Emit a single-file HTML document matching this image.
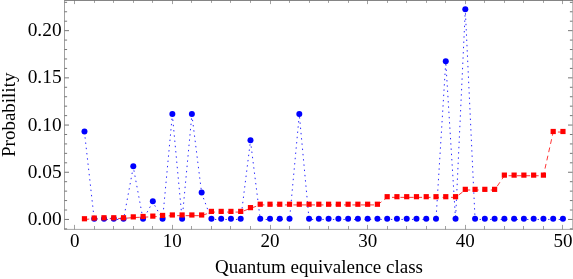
<!DOCTYPE html><html><head><meta charset="utf-8"><style>html,body{margin:0;padding:0;background:#fff;overflow:hidden}body{width:573px;height:279px;position:relative;font-family:"Liberation Serif",serif}</style></head><body><svg width="573" height="279" viewBox="0 0 573 279" style="position:absolute;left:0;top:0;will-change:transform">
<polyline points="84.47,132.04 94.23,219.45 104.00,219.45 113.76,219.45 123.53,219.45 133.29,167.01 143.06,219.45 152.82,201.97 162.59,219.45 172.35,114.56 182.12,219.45 191.88,114.56 201.65,193.23 211.41,219.45 221.18,219.45 230.94,219.45 240.70,219.45 250.47,140.78 260.24,219.45 270.00,219.45 279.76,219.45 289.53,219.45 299.30,114.56 309.06,219.45 318.82,219.45 328.59,219.45 338.36,219.45 348.12,219.45 357.88,219.45 367.65,219.45 377.42,219.45 387.18,219.45 396.94,219.45 406.71,219.45 416.48,219.45 426.24,219.45 436.00,219.45 445.77,61.76 455.54,219.45 465.30,9.67 475.06,219.45 484.83,219.45 494.60,219.45 504.36,219.45 514.12,219.45 523.89,219.45 533.66,219.45 543.42,219.45 553.19,219.45 562.95,219.45" fill="none" stroke="#0000ff" stroke-width="0.85" stroke-dasharray="1.4 3.8727"/>
<polyline points="84.47,219.45 94.23,218.74 104.00,218.46 113.76,218.46 123.53,218.46 133.29,217.56 143.06,217.18 152.82,216.81 162.59,216.15 172.35,215.67 182.12,215.67 191.88,215.67 201.65,215.67 211.41,212.09 221.18,212.09 230.94,212.09 240.70,212.09 250.47,208.31 260.24,204.91 270.00,204.91 279.76,204.91 289.53,204.91 299.30,204.91 309.06,204.91 318.82,204.91 328.59,204.91 338.36,204.91 348.12,204.91 357.88,204.91 367.65,204.91 377.42,204.91 387.18,197.36 396.94,197.36 406.71,197.36 416.48,197.36 426.24,197.36 436.00,197.36 445.77,197.36 455.54,197.36 465.30,190.00 475.06,190.00 484.83,190.00 494.60,190.00 504.36,175.74 514.12,175.74 523.89,175.74 533.66,175.74 543.42,175.74 553.19,132.04 562.95,132.04" fill="none" stroke="#ff0000" stroke-width="0.8" stroke-dasharray="4.8 3.636"/>
<circle cx="84.47" cy="131.45" r="3.0" fill="#0000ff"/>
<circle cx="94.23" cy="218.70" r="3.0" fill="#0000ff"/>
<circle cx="104.00" cy="218.70" r="3.0" fill="#0000ff"/>
<circle cx="113.76" cy="218.70" r="3.0" fill="#0000ff"/>
<circle cx="123.53" cy="218.70" r="3.0" fill="#0000ff"/>
<circle cx="133.29" cy="166.35" r="3.0" fill="#0000ff"/>
<circle cx="143.06" cy="218.70" r="3.0" fill="#0000ff"/>
<circle cx="152.82" cy="201.25" r="3.0" fill="#0000ff"/>
<circle cx="162.59" cy="218.70" r="3.0" fill="#0000ff"/>
<circle cx="172.35" cy="114.00" r="3.0" fill="#0000ff"/>
<circle cx="182.12" cy="218.70" r="3.0" fill="#0000ff"/>
<circle cx="191.88" cy="114.00" r="3.0" fill="#0000ff"/>
<circle cx="201.65" cy="192.52" r="3.0" fill="#0000ff"/>
<circle cx="211.41" cy="218.70" r="3.0" fill="#0000ff"/>
<circle cx="221.18" cy="218.70" r="3.0" fill="#0000ff"/>
<circle cx="230.94" cy="218.70" r="3.0" fill="#0000ff"/>
<circle cx="240.70" cy="218.70" r="3.0" fill="#0000ff"/>
<circle cx="250.47" cy="140.18" r="3.0" fill="#0000ff"/>
<circle cx="260.24" cy="218.70" r="3.0" fill="#0000ff"/>
<circle cx="270.00" cy="218.70" r="3.0" fill="#0000ff"/>
<circle cx="279.76" cy="218.70" r="3.0" fill="#0000ff"/>
<circle cx="289.53" cy="218.70" r="3.0" fill="#0000ff"/>
<circle cx="299.30" cy="114.00" r="3.0" fill="#0000ff"/>
<circle cx="309.06" cy="218.70" r="3.0" fill="#0000ff"/>
<circle cx="318.82" cy="218.70" r="3.0" fill="#0000ff"/>
<circle cx="328.59" cy="218.70" r="3.0" fill="#0000ff"/>
<circle cx="338.36" cy="218.70" r="3.0" fill="#0000ff"/>
<circle cx="348.12" cy="218.70" r="3.0" fill="#0000ff"/>
<circle cx="357.88" cy="218.70" r="3.0" fill="#0000ff"/>
<circle cx="367.65" cy="218.70" r="3.0" fill="#0000ff"/>
<circle cx="377.42" cy="218.70" r="3.0" fill="#0000ff"/>
<circle cx="387.18" cy="218.70" r="3.0" fill="#0000ff"/>
<circle cx="396.94" cy="218.70" r="3.0" fill="#0000ff"/>
<circle cx="406.71" cy="218.70" r="3.0" fill="#0000ff"/>
<circle cx="416.48" cy="218.70" r="3.0" fill="#0000ff"/>
<circle cx="426.24" cy="218.70" r="3.0" fill="#0000ff"/>
<circle cx="436.00" cy="218.70" r="3.0" fill="#0000ff"/>
<circle cx="445.77" cy="61.30" r="3.0" fill="#0000ff"/>
<circle cx="455.54" cy="218.70" r="3.0" fill="#0000ff"/>
<circle cx="465.30" cy="9.30" r="3.0" fill="#0000ff"/>
<circle cx="475.06" cy="218.70" r="3.0" fill="#0000ff"/>
<circle cx="484.83" cy="218.70" r="3.0" fill="#0000ff"/>
<circle cx="494.60" cy="218.70" r="3.0" fill="#0000ff"/>
<circle cx="504.36" cy="218.70" r="3.0" fill="#0000ff"/>
<circle cx="514.12" cy="218.70" r="3.0" fill="#0000ff"/>
<circle cx="523.89" cy="218.70" r="3.0" fill="#0000ff"/>
<circle cx="533.66" cy="218.70" r="3.0" fill="#0000ff"/>
<circle cx="543.42" cy="218.70" r="3.0" fill="#0000ff"/>
<circle cx="553.19" cy="218.70" r="3.0" fill="#0000ff"/>
<circle cx="562.95" cy="218.70" r="3.0" fill="#0000ff"/>
<rect x="81.87" y="216.15" width="5.2" height="5.2" fill="#ff0000"/>
<rect x="91.63" y="215.44" width="5.2" height="5.2" fill="#ff0000"/>
<rect x="101.40" y="215.16" width="5.2" height="5.2" fill="#ff0000"/>
<rect x="111.16" y="215.16" width="5.2" height="5.2" fill="#ff0000"/>
<rect x="120.93" y="215.16" width="5.2" height="5.2" fill="#ff0000"/>
<rect x="130.69" y="214.27" width="5.2" height="5.2" fill="#ff0000"/>
<rect x="140.46" y="213.89" width="5.2" height="5.2" fill="#ff0000"/>
<rect x="150.22" y="213.51" width="5.2" height="5.2" fill="#ff0000"/>
<rect x="159.99" y="212.85" width="5.2" height="5.2" fill="#ff0000"/>
<rect x="169.75" y="212.38" width="5.2" height="5.2" fill="#ff0000"/>
<rect x="179.52" y="212.38" width="5.2" height="5.2" fill="#ff0000"/>
<rect x="189.28" y="212.38" width="5.2" height="5.2" fill="#ff0000"/>
<rect x="199.05" y="212.38" width="5.2" height="5.2" fill="#ff0000"/>
<rect x="208.81" y="208.80" width="5.2" height="5.2" fill="#ff0000"/>
<rect x="218.58" y="208.80" width="5.2" height="5.2" fill="#ff0000"/>
<rect x="228.34" y="208.80" width="5.2" height="5.2" fill="#ff0000"/>
<rect x="238.10" y="208.80" width="5.2" height="5.2" fill="#ff0000"/>
<rect x="247.87" y="205.03" width="5.2" height="5.2" fill="#ff0000"/>
<rect x="257.63" y="201.64" width="5.2" height="5.2" fill="#ff0000"/>
<rect x="267.40" y="201.64" width="5.2" height="5.2" fill="#ff0000"/>
<rect x="277.16" y="201.64" width="5.2" height="5.2" fill="#ff0000"/>
<rect x="286.93" y="201.64" width="5.2" height="5.2" fill="#ff0000"/>
<rect x="296.69" y="201.64" width="5.2" height="5.2" fill="#ff0000"/>
<rect x="306.46" y="201.64" width="5.2" height="5.2" fill="#ff0000"/>
<rect x="316.22" y="201.64" width="5.2" height="5.2" fill="#ff0000"/>
<rect x="325.99" y="201.64" width="5.2" height="5.2" fill="#ff0000"/>
<rect x="335.75" y="201.64" width="5.2" height="5.2" fill="#ff0000"/>
<rect x="345.52" y="201.64" width="5.2" height="5.2" fill="#ff0000"/>
<rect x="355.28" y="201.64" width="5.2" height="5.2" fill="#ff0000"/>
<rect x="365.05" y="201.64" width="5.2" height="5.2" fill="#ff0000"/>
<rect x="374.81" y="201.64" width="5.2" height="5.2" fill="#ff0000"/>
<rect x="384.58" y="194.10" width="5.2" height="5.2" fill="#ff0000"/>
<rect x="394.34" y="194.10" width="5.2" height="5.2" fill="#ff0000"/>
<rect x="404.11" y="194.10" width="5.2" height="5.2" fill="#ff0000"/>
<rect x="413.88" y="194.10" width="5.2" height="5.2" fill="#ff0000"/>
<rect x="423.64" y="194.10" width="5.2" height="5.2" fill="#ff0000"/>
<rect x="433.40" y="194.10" width="5.2" height="5.2" fill="#ff0000"/>
<rect x="443.17" y="194.10" width="5.2" height="5.2" fill="#ff0000"/>
<rect x="452.94" y="194.10" width="5.2" height="5.2" fill="#ff0000"/>
<rect x="462.70" y="186.75" width="5.2" height="5.2" fill="#ff0000"/>
<rect x="472.46" y="186.75" width="5.2" height="5.2" fill="#ff0000"/>
<rect x="482.23" y="186.75" width="5.2" height="5.2" fill="#ff0000"/>
<rect x="492.00" y="186.75" width="5.2" height="5.2" fill="#ff0000"/>
<rect x="501.76" y="172.52" width="5.2" height="5.2" fill="#ff0000"/>
<rect x="511.52" y="172.52" width="5.2" height="5.2" fill="#ff0000"/>
<rect x="521.29" y="172.52" width="5.2" height="5.2" fill="#ff0000"/>
<rect x="531.06" y="172.52" width="5.2" height="5.2" fill="#ff0000"/>
<rect x="540.82" y="172.52" width="5.2" height="5.2" fill="#ff0000"/>
<rect x="550.59" y="128.89" width="5.2" height="5.2" fill="#ff0000"/>
<rect x="560.35" y="128.89" width="5.2" height="5.2" fill="#ff0000"/>
<g stroke="#666" stroke-width="0.62" fill="none">
<path d="M74.50 229.4V224.9M74.50 0.5V4.1"/>
<path d="M94.50 229.4V226.0M94.50 0.5V2.9"/>
<path d="M113.50 229.4V226.0M113.50 0.5V2.9"/>
<path d="M133.50 229.4V226.0M133.50 0.5V2.9"/>
<path d="M152.50 229.4V226.0M152.50 0.5V2.9"/>
<path d="M172.50 229.4V224.9M172.50 0.5V4.1"/>
<path d="M191.50 229.4V226.0M191.50 0.5V2.9"/>
<path d="M211.50 229.4V226.0M211.50 0.5V2.9"/>
<path d="M230.50 229.4V226.0M230.50 0.5V2.9"/>
<path d="M250.50 229.4V226.0M250.50 0.5V2.9"/>
<path d="M270.50 229.4V224.9M270.50 0.5V4.1"/>
<path d="M289.50 229.4V226.0M289.50 0.5V2.9"/>
<path d="M309.50 229.4V226.0M309.50 0.5V2.9"/>
<path d="M328.50 229.4V226.0M328.50 0.5V2.9"/>
<path d="M348.50 229.4V226.0M348.50 0.5V2.9"/>
<path d="M367.50 229.4V224.9M367.50 0.5V4.1"/>
<path d="M387.50 229.4V226.0M387.50 0.5V2.9"/>
<path d="M406.50 229.4V226.0M406.50 0.5V2.9"/>
<path d="M426.50 229.4V226.0M426.50 0.5V2.9"/>
<path d="M445.50 229.4V226.0M445.50 0.5V2.9"/>
<path d="M465.50 229.4V224.9M465.50 0.5V4.1"/>
<path d="M484.50 229.4V226.0M484.50 0.5V2.9"/>
<path d="M504.50 229.4V226.0M504.50 0.5V2.9"/>
<path d="M523.50 229.4V226.0M523.50 0.5V2.9"/>
<path d="M543.50 229.4V226.0M543.50 0.5V2.9"/>
<path d="M562.50 229.4V224.9M562.50 0.5V4.1"/>
</g>
<g stroke="#666" stroke-width="0.9" fill="none">
<path d="M64.5 228.89h2.6M572.5 228.89h-2.6"/>
<path d="M64.5 219.45h4.5M572.5 219.45h-4.5"/>
<path d="M64.5 210.01h2.6M572.5 210.01h-2.6"/>
<path d="M64.5 200.57h2.6M572.5 200.57h-2.6"/>
<path d="M64.5 191.13h2.6M572.5 191.13h-2.6"/>
<path d="M64.5 181.69h2.6M572.5 181.69h-2.6"/>
<path d="M64.5 172.25h4.5M572.5 172.25h-4.5"/>
<path d="M64.5 162.81h2.6M572.5 162.81h-2.6"/>
<path d="M64.5 153.37h2.6M572.5 153.37h-2.6"/>
<path d="M64.5 143.93h2.6M572.5 143.93h-2.6"/>
<path d="M64.5 134.49h2.6M572.5 134.49h-2.6"/>
<path d="M64.5 125.05h4.5M572.5 125.05h-4.5"/>
<path d="M64.5 115.61h2.6M572.5 115.61h-2.6"/>
<path d="M64.5 106.17h2.6M572.5 106.17h-2.6"/>
<path d="M64.5 96.73h2.6M572.5 96.73h-2.6"/>
<path d="M64.5 87.29h2.6M572.5 87.29h-2.6"/>
<path d="M64.5 77.85h4.5M572.5 77.85h-4.5"/>
<path d="M64.5 68.41h2.6M572.5 68.41h-2.6"/>
<path d="M64.5 58.97h2.6M572.5 58.97h-2.6"/>
<path d="M64.5 49.53h2.6M572.5 49.53h-2.6"/>
<path d="M64.5 40.09h2.6M572.5 40.09h-2.6"/>
<path d="M64.5 30.65h4.5M572.5 30.65h-4.5"/>
<path d="M64.5 21.21h2.6M572.5 21.21h-2.6"/>
<path d="M64.5 11.77h2.6M572.5 11.77h-2.6"/>
<path d="M64.5 2.33h2.6M572.5 2.33h-2.6"/>
</g>
<g stroke="#666" fill="none">
<path d="M64.19 0.5H573" stroke-width="0.8"/>
<path d="M64.5 0.5V229.4" stroke-width="0.62"/>
<path d="M64.19 229.4H573" stroke-width="0.58"/>
<path d="M572.8 0.5V229.4" stroke-width="0.62"/>
</g>
<g font-family="Liberation Serif, serif" font-size="19px" fill="#000">
<text x="74.70" y="247.4" text-anchor="middle">0</text>
<text x="172.35" y="247.4" text-anchor="middle">10</text>
<text x="270.00" y="247.4" text-anchor="middle">20</text>
<text x="367.65" y="247.4" text-anchor="middle">30</text>
<text x="465.30" y="247.4" text-anchor="middle">40</text>
<text x="562.95" y="247.4" text-anchor="middle">50</text>
<text x="61.6" y="225.10" text-anchor="end" textLength="33.9" lengthAdjust="spacingAndGlyphs">0.00</text>
<text x="61.6" y="178.10" text-anchor="end" textLength="33.9" lengthAdjust="spacingAndGlyphs">0.05</text>
<text x="61.6" y="131.10" text-anchor="end" textLength="33.9" lengthAdjust="spacingAndGlyphs">0.10</text>
<text x="61.6" y="83.10" text-anchor="end" textLength="33.9" lengthAdjust="spacingAndGlyphs">0.15</text>
<text x="61.6" y="36.10" text-anchor="end" textLength="33.9" lengthAdjust="spacingAndGlyphs">0.20</text>
<text x="319" y="272.6" text-anchor="middle">Quantum equivalence class</text>
<text transform="translate(15,114.8) rotate(-90)" text-anchor="middle">Probability</text>
</g></svg></body></html>
